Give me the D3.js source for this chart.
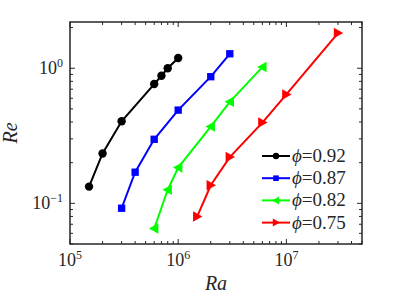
<!DOCTYPE html>
<html>
<head>
<script src="https://d3js.org/d3.v7.min.js"></script>
<style>
body { margin:0; background:#fff; }
</style>
</head>
<body>
<svg width="399" height="299"></svg>
<script>
// data
var seriesNames = ["0.92", "0.87", "0.82", "0.75"];
var seriesColors = ["#000000", "#0000ff", "#00ff00", "#ff0000"];
var seriesMarkers = ["circle", "square", "triLeft", "triRight"];
var ra092 = [1.5e5, 2e5, 3e5, 6e5, 7e5, 8e5, 1e6];
var re092 = [0.133, 0.234, 0.405, 0.764, 0.88, 1.0, 1.19];
var ra087 = [3e5, 4e5, 6e5, 1e6, 2e6, 3e6];
var re087 = [0.092, 0.17, 0.298, 0.49, 0.866, 1.28];
var ra082 = [6e5, 8e5, 1e6, 2e6, 3e6, 6e6];
var re082 = [0.065, 0.126, 0.184, 0.37, 0.564, 1.02];
var ra075 = [1.5e6, 2e6, 3e6, 6e6, 1e7, 3e7];
var re075 = [0.08, 0.136, 0.22, 0.396, 0.64, 1.82];
var xTickVals = [1e5, 1e6, 1e7];
var xTickExp = ["5", "6", "7"];
var yTickVals = [0.1, 1];
var yTickExp = ["\u22121", "0"];

var xs = [ra092, ra087, ra082, ra075];
var ys = [re092, re087, re082, re075];

var FONT = "'Liberation Serif', 'Times New Roman', Times, serif";
var L = 70, R = 362, T = 22, B = 244;
var x = d3.scaleLog().domain([1e5, 5e7]).range([L, R]);
var y = d3.scaleLog().domain([0.05, 2.2]).range([B, T]);

var svg = d3.select("svg");
var axisColor = "#262626";

// minor + major ticks, inward, on all four sides
var xMinor = x.ticks();
var yMinor = y.ticks();
var g = svg.append("g").attr("stroke", axisColor).attr("stroke-width", 1);
xMinor.forEach(function(v) {
  var major = xTickVals.indexOf(v) >= 0;
  var len = major ? 5 : 3;
  g.append("line").attr("x1", x(v)).attr("x2", x(v)).attr("y1", B).attr("y2", B - len);
  g.append("line").attr("x1", x(v)).attr("x2", x(v)).attr("y1", T).attr("y2", T + len);
});
yMinor.forEach(function(v) {
  var major = yTickVals.some(function(t) { return Math.abs(t - v) < 1e-9; });
  var len = major ? 5 : 3;
  g.append("line").attr("y1", y(v)).attr("y2", y(v)).attr("x1", L).attr("x2", L + len);
  g.append("line").attr("y1", y(v)).attr("y2", y(v)).attr("x1", R).attr("x2", R - len);
});

svg.append("rect").attr("x", L).attr("y", T).attr("width", R - L).attr("height", B - T)
  .attr("fill", "none").attr("stroke", axisColor).attr("stroke-width", 1.5);

// tick labels
xTickVals.forEach(function(v, i) {
  var t = svg.append("text").attr("x", x(v)).attr("y", B + 22).attr("text-anchor", "middle")
    .attr("font-family", FONT).attr("fill", axisColor).attr("font-size", 18);
  t.append("tspan").text("10");
  t.append("tspan").attr("dy", -7).attr("font-size", 12).text(xTickExp[i]);
});
yTickVals.forEach(function(v, i) {
  var t = svg.append("text").attr("x", L - 7).attr("y", y(v) + 6).attr("text-anchor", "end")
    .attr("font-family", FONT).attr("fill", axisColor).attr("font-size", 18);
  t.append("tspan").text("10");
  t.append("tspan").attr("dy", -7).attr("font-size", 12).text(yTickExp[i]);
});

// axis labels
svg.append("text").attr("x", (L + R) / 2).attr("y", 290).attr("text-anchor", "middle")
  .attr("font-family", FONT).attr("fill", axisColor)
  .attr("font-size", 20).attr("font-style", "italic").text("Ra");
svg.append("text").attr("transform", "translate(17," + ((T + B) / 2) + ") rotate(-90)")
  .attr("font-family", FONT).attr("fill", axisColor)
  .attr("text-anchor", "middle").attr("font-size", 20).attr("font-style", "italic").text("Re");

function drawMarker(sel, kind, color, k) {
  if (kind === "circle") {
    sel.append("circle").attr("r", 4 * k).attr("fill", color);
  } else if (kind === "square") {
    sel.append("rect").attr("x", -3.5 * k).attr("y", -3.5 * k)
      .attr("width", 7 * k).attr("height", 7 * k).attr("fill", color);
  } else if (kind === "triLeft") {
    sel.append("path").attr("d", "M-5,0L4,-5L4,5Z").attr("transform", "scale(" + k + ")").attr("fill", color);
  } else {
    sel.append("path").attr("d", "M5,0L-4,-5L-4,5Z").attr("transform", "scale(" + k + ")").attr("fill", color);
  }
}

var line = d3.line().x(function(d) { return x(d[0]); }).y(function(d) { return y(d[1]); });

xs.forEach(function(xv, s) {
  var pts = xv.map(function(v, i) { return [v, ys[s][i]]; });
  svg.append("path").datum(pts).attr("d", line).attr("fill", "none")
    .attr("stroke", seriesColors[s]).attr("stroke-width", 2);
  pts.forEach(function(p) {
    var m = svg.append("g").attr("transform", "translate(" + x(p[0]) + "," + y(p[1]) + ")");
    drawMarker(m, seriesMarkers[s], seriesColors[s], 1.05);
  });
});

// legend
var lg = svg.append("g");
seriesNames.forEach(function(n, i) {
  var yy = 156 + i * 22.2;
  lg.append("line").attr("x1", 262).attr("x2", 290).attr("y1", yy).attr("y2", yy)
    .attr("stroke", seriesColors[i]).attr("stroke-width", 2);
  var m = lg.append("g").attr("transform", "translate(276," + yy + ")");
  drawMarker(m, seriesMarkers[i], seriesColors[i], 0.8);
  var t = lg.append("text").attr("x", 292).attr("y", yy + 6)
    .attr("font-family", FONT).attr("fill", axisColor).attr("font-size", 19);
  t.append("tspan").attr("font-style", "italic").text("\u03d5");
  t.append("tspan").text("=" + n);
});
</script>
</body>
</html>
